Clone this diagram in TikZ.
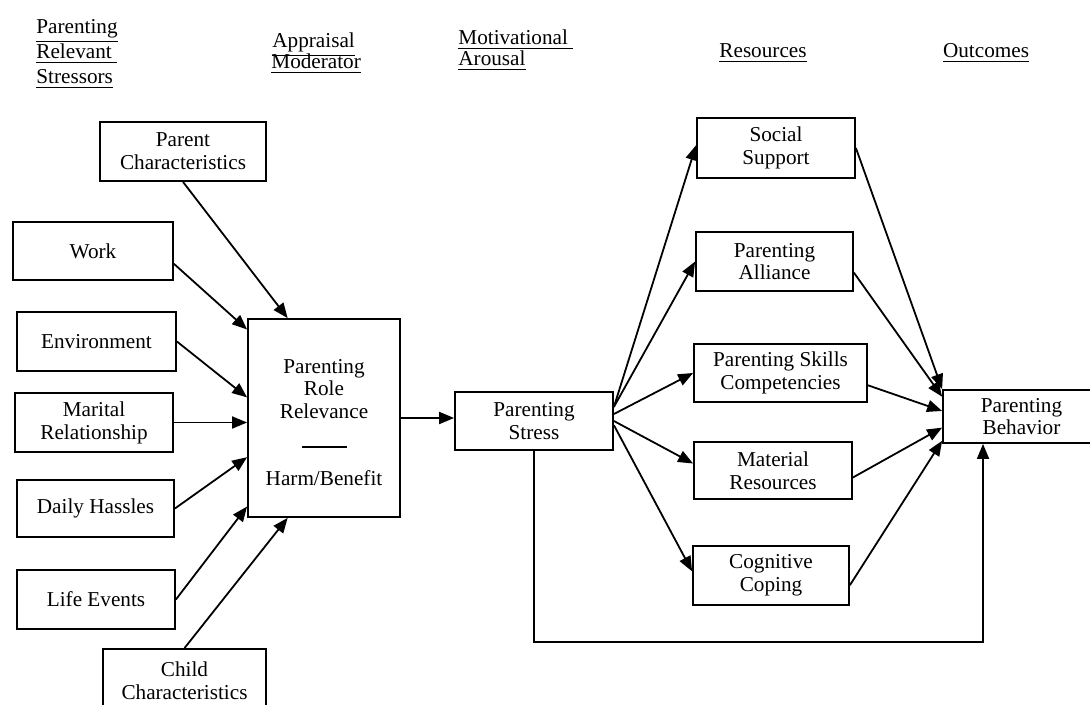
\documentclass[tikz,border=0pt]{standalone}
\usepackage{fontspec}
\setmainfont{Liberation Serif}
\usetikzlibrary{arrows.meta}
\begin{document}
\begin{tikzpicture}[x=0.5pt,y=-0.5pt,
  box/.style={draw,line width=0.9pt,inner sep=0pt,align=center,font=\fontsize{10.6}{11.4}\selectfont},
  sz/.style 2 args={minimum width=#1*0.5pt,minimum height=#2*0.5pt},
  lbl/.style={inner sep=0pt,align=center,font=\fontsize{10.6}{11.4}\selectfont},
  hdr/.style={inner sep=0pt,anchor=base west,font=\fontsize{10.6}{12}\selectfont},
  hdrc/.style={inner sep=0pt,anchor=base,font=\fontsize{10.6}{12}\selectfont},
  arr/.style={line width=0.9pt,-{Triangle[length=7.5pt,width=6pt]}}]
\useasboundingbox (0,0) rectangle (1090,705);
\clip (0,0) rectangle (1090,705);

% column headings
\node[hdr] (h1a) at (36,34) {\underline{Parenting}};
\node[hdr] (h1b) at (36,59) {\underline{Relevant\ }};
\node[hdr] (h1c) at (36,84) {\underline{Stressors}};
\node[hdr] (h2a) at (272,48) {\underline{Appraisal}};
\node[hdr] (h2b) at (271,69) {\underline{Moderator}};
\node[hdr] (h3a) at (458,45) {\underline{Motivational\ }};
\node[hdr] (h3b) at (458,66) {\underline{Arousal}};
\node[hdrc] (h4) at (763,58) {\underline{Resources}};
\node[hdrc] (h5) at (986,58) {\underline{Outcomes}};

% stressors
\node[box, sz={166}{59}] (pc)  at (183,151.5)   {Parent\\Characteristics};
\node[box, sz={160}{58}] (wk)  at (93,251)      {Work};
\node[box, sz={159}{59}] (env) at (96.5,341.5)  {Environment};
\node[box, sz={158}{59}] (mar) at (94,422.5)    {Marital\\Relationship};
\node[box, sz={157}{57}] (dh)  at (95.5,508.5)  {Daily Hassles};
\node[box, sz={158}{59}] (le)  at (96,599.5)    {Life Events};
\node[box, sz={163}{63}] (chc) at (184.5,680.5) {Child\\Characteristics};

% appraisal
\node[box, sz={152}{198}] (prr) at (324,418) {};
\node[lbl] (prrtxt) at (324,389) {Parenting\\Role\\Relevance};
\draw[line width=0.9pt] (302,447) -- (347,447);
\node[lbl] (prrhb) at (324,478) {Harm/Benefit};

% arousal
\node[box, sz={158}{58}] (ps) at (534,421) {Parenting\\Stress};

% resources
\node[box, sz={158}{60}] (ss)  at (776,148)   {Social\\Support};
\node[box, sz={157}{59}] (pa)  at (774.5,261.5) {Parenting\\Alliance};
\node[box, sz={173}{58}] (psc) at (780.5,373) {Parenting Skills\\Competencies};
\node[box, sz={158}{57}] (mat) at (773,470.5) {Material\\Resources};
\node[box, sz={156}{59}] (cog) at (771,575.5) {Cognitive\\Coping};

% outcome
\node[box, sz={157}{53}] (beh) at (1021.5,416.5) {Parenting\\Behavior};

% stressors into appraisal
\draw[arr] (pc.south) -- (prr.110);
\draw[arr] (wk.-9) -- (prr.131);
\draw[arr] (env.east) -- (prr.165);
\draw[arr] (mar.east) -- (mar.east -| prr.west);
\draw[arr] (dh.east) -- (prr.207);
\draw[arr] (le.east) -- (prr.229);
\draw[arr] (chc.north) -- (prr.250);

% appraisal to stress
\draw[arr] (prr.east) -- (prr.east -| ps.west);

% stress to resources
\draw[arr] (ps.10) -- (ss.178);
\draw[arr] (ps.10) -- (pa.west);
\draw[arr] (ps.5) -- (psc.west);
\draw[arr] (ps.0) -- (mat.175);
\draw[arr] (ps.-3) -- (cog.177);

% resources to behaviour
\draw[arr] (ss.east) -- (beh.north west);
\draw[arr] (pa.-8) -- (beh.166);
\draw[arr] (psc.-8) -- (beh.176);
\draw[arr] (mat.-5) -- (beh.188);
\draw[arr] (cog.-7) -- (beh.197);

% direct path from stress to behaviour
\coordinate (fb) at (983,642);
\draw[arr] (ps.south) |- (fb) -- (fb |- beh.south);
\end{tikzpicture}
\end{document}
